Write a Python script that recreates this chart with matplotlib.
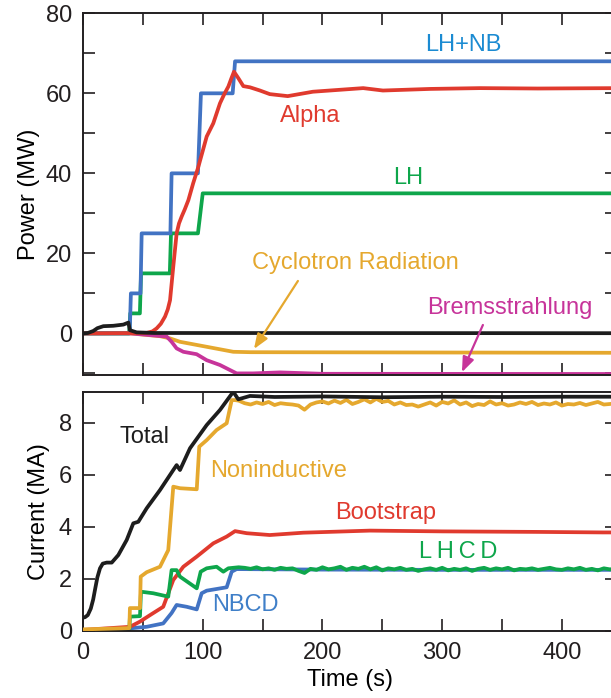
import matplotlib
import matplotlib.pyplot as plt
from matplotlib.ticker import MultipleLocator

matplotlib.use("Agg")

plt.rcParams["font.family"] = ["Liberation Sans", "DejaVu Sans"]

# --- Power traces (top panel), time in s, power in MW ---
lhnb_t = [0, 39, 40, 48, 49, 73, 74, 96, 98.5, 125, 127, 446]
lhnb_p = [0, 0, 10, 10, 25, 25, 40, 40, 60, 60, 68, 68]

lh_t = [0, 38.5, 39.5, 47.5, 48.5, 72.5, 73.5, 96, 100, 446]
lh_p = [0, 0, 5, 5, 15, 15, 25, 25, 35, 35]

alpha_t = [0, 53, 58, 61.5, 65, 68.5, 70.8, 72.7, 75.4, 78.2, 80.2, 82.4, 85,
           88, 92, 96.3, 100, 103.3, 108.8, 114.4, 118, 121.4, 124, 126.1,
           129.7, 133.9, 139.5, 147.8, 156, 171, 192, 234, 250.5, 290, 331.5,
           380, 446]
alpha_p = [0, 0.1, 0.5, 1.25, 2.4, 4.2, 6, 8.3, 16.7, 25, 27.5, 29.2, 31,
           33.3, 37.5, 41.6, 45.6, 49.2, 52.5, 57.5, 59.8, 61.7, 63.8, 65.4,
           63.8, 61.8, 61.5, 60.7, 59.8, 59.3, 60.4, 61.3, 60.7, 61.1, 61.3,
           61.2, 61.3]

ohmic_t = [0, 4, 8.6, 12, 17, 25.3, 33.7, 37.9, 39.2, 44.8, 60, 446]
ohmic_p = [0, 0.1, 0.6, 1.3, 1.8, 1.9, 2.2, 2.7, 0.8, 0.25, 0.1, 0.05]

cyc_t = [0, 39.2, 64.3, 72.7, 81, 103.3, 125.5, 140, 446]
cyc_p = [0, 0, -0.7, -1.25, -2.1, -3.35, -4.6, -4.7, -4.85]

brem_t = [0, 39.2, 47.6, 69.9, 74, 78.2, 83.8, 94.9, 103.3, 114.4, 128.3,
          142.2, 164.5, 200, 446]
brem_p = [0, 0, -0.2, -0.8, -2.1, -3.75, -4.6, -5.2, -6.7, -7.9, -10,
          -10, -9.75, -10.1, -10.15]

# --- Current traces (bottom panel), in MA ---
total_t = [0, 1.7, 4, 6.5, 8.5, 10, 12, 14.2, 16.5, 19.8, 24, 29.5, 36.5, 42,
           46.2, 53.2, 64.3, 75.4, 78.2, 81, 89.4, 103.3, 114.4, 125.5, 129.7,
           139.5, 160, 200, 250, 300, 350, 400, 446]
total_i = [0.5, 0.52, 0.6, 0.85, 1.2, 1.57, 2.05, 2.4, 2.58, 2.62, 2.62, 2.91,
           3.49, 4.13, 4.19, 4.71, 5.41, 6.18, 6.37, 6.18, 7.02, 7.91, 8.49,
           9.19, 8.9, 9.03, 8.99, 9.01, 8.98, 9.0, 8.99, 9.0, 9.0]

nonind_t = [0, 38.7, 39.2, 47.6, 48.2, 53.2, 64.3, 71.2, 75.4, 81, 95, 97.1,
            103.3, 111.6, 120, 124.2, 127, 130, 135, 140, 145, 150, 155, 160,
            165, 170, 175, 180, 185, 190, 195, 200, 205, 210, 215, 220, 225,
            230, 235, 240, 245, 250, 255, 260, 265, 270, 275, 280, 285, 290,
            295, 300, 305, 310, 315, 320, 325, 330, 335, 340, 345, 350, 355,
            360, 365, 370, 375, 380, 385, 390, 395, 400, 405, 410, 415, 420,
            425, 430, 435, 440, 446]
nonind_i = [0.05, 0.1, 0.87, 0.87, 2.08, 2.25, 2.46, 3.1, 5.54, 5.48, 5.44,
            7.08, 7.33, 7.72, 7.98, 8.87, 8.87, 8.85, 8.75, 8.7, 8.78, 8.72,
            8.8, 8.68, 8.75, 8.72, 8.7, 8.66, 8.5, 8.7, 8.78, 8.82, 8.74, 8.85,
            8.76, 8.88, 8.72, 8.8, 8.9, 8.78, 8.92, 8.8, 8.84, 8.7, 8.78, 8.68,
            8.7, 8.62, 8.7, 8.78, 8.66, 8.8, 8.74, 8.86, 8.7, 8.78, 8.64, 8.72,
            8.68, 8.82, 8.7, 8.75, 8.66, 8.7, 8.78, 8.72, 8.8, 8.68, 8.74, 8.7,
            8.78, 8.66, 8.72, 8.7, 8.76, 8.68, 8.74, 8.8, 8.7, 8.72, 8.75]

boot_t = [0, 39.2, 47.6, 56, 67, 75.4, 83.8, 95, 108.8, 120, 127, 136.7, 156,
          184, 239.7, 300, 380, 434, 446]
boot_i = [0.03, 0.15, 0.35, 0.6, 0.92, 1.95, 2.46, 2.85, 3.36, 3.62, 3.83,
          3.75, 3.68, 3.77, 3.85, 3.82, 3.8, 3.78, 3.78]

lhcd_t = [0, 38.7, 39.2, 47.6, 48.4, 58.7, 71.2, 74, 78.2, 81, 95, 98.3,
          103.3, 111.6, 117.2, 121.4, 130, 135, 140, 145, 150, 155, 160, 165,
          170, 175, 180, 185, 190, 195, 200, 205, 210, 215, 220, 225, 230, 235,
          240, 245, 250, 255, 260, 265, 270, 275, 280, 285, 290, 295, 300, 305,
          310, 315, 320, 325, 330, 335, 340, 345, 350, 355, 360, 365, 370, 375,
          380, 385, 390, 395, 400, 405, 410, 415, 420, 425, 430, 435, 440, 446]
lhcd_i = [0, 0, 0.54, 0.56, 1.5, 1.44, 1.31, 2.33, 2.33, 2.08, 1.63, 2.27,
          2.4, 2.46, 2.27, 2.4, 2.44, 2.42, 2.38, 2.44, 2.36, 2.4, 2.34, 2.42,
          2.38, 2.4, 2.3, 2.22, 2.38, 2.34, 2.44, 2.36, 2.4, 2.46, 2.34, 2.42,
          2.38, 2.46, 2.36, 2.44, 2.32, 2.4, 2.36, 2.42, 2.34, 2.38, 2.3, 2.36,
          2.4, 2.34, 2.42, 2.32, 2.38, 2.34, 2.4, 2.3, 2.38, 2.42, 2.34, 2.4,
          2.36, 2.42, 2.32, 2.38, 2.36, 2.4, 2.34, 2.38, 2.42, 2.36, 2.34, 2.4,
          2.36, 2.42, 2.34, 2.38, 2.32, 2.4, 2.36, 2.38]

nbcd_t = [0, 39.2, 53.2, 67, 74, 78.2, 86.6, 95, 99.1, 103.3, 120, 124.2,
          128.3, 200, 300, 446]
nbcd_i = [0, 0.09, 0.15, 0.28, 0.68, 0.99, 0.92, 0.82, 1.44, 1.54, 1.67, 2.27,
          2.37, 2.35, 2.34, 2.34]

# --- Colours ---
c_blue = "#4273c3"
c_blue_txt = "#1b8bd2"
c_red = "#e03a2e"
c_green = "#0ea64b"
c_orange = "#e5a82e"
c_mag = "#c7349a"
c_black = "#1d1d1d"
c_axis = "#231f20"

lw = 2.7
fs = 17

fig = plt.figure(figsize=(6.11, 6.98), dpi=100)
fig.patch.set_facecolor("white")
ax1 = fig.add_axes([83 / 611, 1 - 375 / 698, 534 / 611, 361.7 / 698])
ax2 = fig.add_axes([83 / 611, 1 - 630.7 / 698, 534 / 611, 238.4 / 698], sharex=ax1)

# Top panel
ax1.plot(ohmic_t, ohmic_p, color=c_black, lw=lw, zorder=3)
ax1.plot(cyc_t, cyc_p, color=c_orange, lw=lw, zorder=2)
ax1.plot(brem_t, brem_p, color=c_mag, lw=lw, zorder=2)
ax1.plot(lh_t, lh_p, color=c_green, lw=lw, zorder=2)
ax1.plot(lhnb_t, lhnb_p, color=c_blue, lw=lw, zorder=2)
ax1.plot(alpha_t, alpha_p, color=c_red, lw=lw, zorder=2.5)

ax1.text(317.3, 72.1, "LH+NB", color=c_blue_txt, fontsize=fs, ha="center", va="center")
ax1.text(189.6, 54.3, "Alpha", color=c_red, fontsize=fs, ha="center", va="center")
ax1.text(271.4, 38.8, "LH", color=c_green, fontsize=fs, ha="center", va="center")
ax1.text(227.1, 17.6, "Cyclotron Radiation", color=c_orange, fontsize=fs,
         ha="center", va="center")
ax1.text(356.6, 6.3, "Bremsstrahlung", color=c_mag, fontsize=fs, ha="center", va="center")
ax1.annotate("", xy=(142.8, -3.9), xytext=(179.5, 13.1),
             arrowprops=dict(arrowstyle="-|>,head_length=0.9,head_width=0.35",
                             color=c_orange, lw=1.6, shrinkA=0, shrinkB=0))
ax1.annotate("", xy=(316.5, -9.7), xytext=(334, 2.1),
             arrowprops=dict(arrowstyle="-|>,head_length=0.9,head_width=0.35",
                             color=c_mag, lw=1.6, shrinkA=0, shrinkB=0))

ax1.set_ylim(-10.4, 80)
ax1.yaxis.set_major_locator(MultipleLocator(20))
ax1.yaxis.set_minor_locator(MultipleLocator(10))
ax1.set_ylabel("Power (MW)", fontsize=fs, labelpad=4)
ax1.tick_params(labelbottom=False)

# Bottom panel
ax2.plot(nbcd_t, nbcd_i, color=c_blue, lw=lw, zorder=2)
ax2.plot(boot_t, boot_i, color=c_red, lw=lw, zorder=2)
ax2.plot(lhcd_t, lhcd_i, color=c_green, lw=lw, zorder=2.5)
ax2.plot(nonind_t, nonind_i, color=c_orange, lw=lw, zorder=2.6)
ax2.plot(total_t, total_i, color=c_black, lw=lw, zorder=3)

ax2.text(51, 7.45, "Total", color=c_black, fontsize=fs, ha="center", va="center")
ax2.text(163.7, 6.14, "Noninductive", color=c_orange, fontsize=fs, ha="center", va="center")
ax2.text(253, 4.53, "Bootstrap", color=c_red, fontsize=fs, ha="center", va="center")
ax2.text(313, 3.03, "L\u2009H\u2009C\u2009D", color=c_green, fontsize=fs,
         ha="center", va="center")
ax2.text(136, 0.99, "NBCD", color="#3f7fc8", fontsize=fs, ha="center", va="center")

ax2.set_ylim(0, 9.17)
ax2.yaxis.set_major_locator(MultipleLocator(2))
ax2.set_ylabel("Current (MA)", fontsize=fs, labelpad=6)
ax2.set_xlabel("Time (s)", fontsize=fs, labelpad=4)

ax2.set_xlim(0, 446)
ax2.xaxis.set_major_locator(MultipleLocator(100))
ax2.xaxis.set_minor_locator(MultipleLocator(50))

for ax in (ax1, ax2):
    for sp in ax.spines.values():
        sp.set_linewidth(1.4)
        sp.set_color(c_axis)
    ax.tick_params(which="both", direction="in", length=8.4, width=1.2,
                   top=True, right=True, color=c_axis, labelsize=fs,
                   labelcolor=c_axis, pad=8)

fig.savefig("out.png", dpi=100)
plt.close()
